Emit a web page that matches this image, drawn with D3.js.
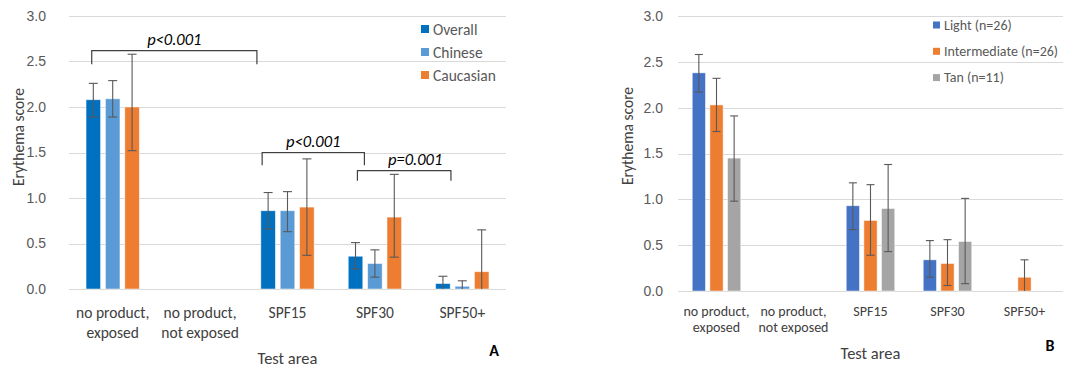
<!DOCTYPE html>
<html>
<head>
<meta charset="utf-8">
<script src="https://cdn.jsdelivr.net/npm/d3@7"></script>
<style>
  html, body { margin: 0; padding: 0; background: #fff; }
  svg { display: block; font-family: Carlito, Calibri, Lato, sans-serif; }
</style>
</head>
<body>
<svg id="chart" width="1065" height="370"></svg>
<script>
// Categories (shared by both panels)
const categories = ['no product, exposed', 'no product, not exposed', 'SPF15', 'SPF30', 'SPF50+'];
const categoryLines = [['no product,', 'exposed'], ['no product,', 'not exposed'], ['SPF15'], ['SPF30'], ['SPF50+']];
const yTicks = [0, 0.5, 1.0, 1.5, 2.0, 2.5, 3.0];

// Panel A: by ethnicity
const seriesA = ['Overall', 'Chinese', 'Caucasian'];
const overall     = [2.08, null, 0.86, 0.36, 0.06];
const overallLo   = [1.89, null, 0.66, 0.22, -0.02];
const overallHi   = [2.26, null, 1.06, 0.51, 0.14];
const chinese     = [2.09, null, 0.86, 0.28, 0.03];
const chineseLo   = [1.89, null, 0.63, 0.13, -0.03];
const chineseHi   = [2.29, null, 1.07, 0.43, 0.09];
const caucasian   = [2.00, null, 0.90, 0.79, 0.19];
const caucasianLo = [1.52, null, 0.37, 0.35, -0.27];
const caucasianHi = [2.58, null, 1.43, 1.26, 0.65];

// Panel A significance brackets: [category, fraction of band] ends, y levels in score units
const bracketsA = [
    { from: [0, 0.26], to: [2, 0.15], top: 2.62, foot: 2.47, label: 'p<0.001', dx: 0 },
    { from: [2, 0.21], to: [3, 0.38], top: 1.50, foot: 1.36, label: 'p<0.001', dx: 0 },
    { from: [3, 0.30], to: [4, 0.37], top: 1.30, foot: 1.19, label: 'p=0.001', dx: 11 }
];

// Panel B: by skin type
const seriesB = ['Light (n=26)', 'Intermediate (n=26)', 'Tan (n=11)'];
const light   = [2.38, null, 0.93, 0.34, null];
const lightLo = [2.17, null, 0.67, 0.15, null];
const lightHi = [2.58, null, 1.18, 0.55, null];
const inter   = [2.03, null, 0.77, 0.30, 0.15];
const interLo = [1.74, null, 0.39, 0.06, -0.04];
const interHi = [2.32, null, 1.16, 0.56, 0.34];
const tan     = [1.45, null, 0.90, 0.54, null];
const tanLo   = [0.98, null, 0.43, 0.08, null];
const tanHi   = [1.91, null, 1.38, 1.01, null];

const svg = d3.select('#chart');

function drawPanel(cfg) {
    const g = svg.append('g');

    const x = d3.scaleBand()
        .domain(categories)
        .range([cfg.left, cfg.right])
        .padding(0);

    const bw = x.bandwidth();
    const x1 = d3.scaleBand()
        .domain(cfg.series.map(s => s.name))
        .range([bw * (1 - cfg.groupFrac) / 2, bw * (1 + cfg.groupFrac) / 2])
        .paddingInner(0.25);

    const y = d3.scaleLinear()
        .domain([0, 3])
        .range([cfg.bottom, cfg.top]);

    // Gridlines
    g.append('g')
        .selectAll('line')
        .data(yTicks)
        .join('line')
        .attr('x1', cfg.left)
        .attr('x2', cfg.right)
        .attr('y1', d => Math.round(y(d)) + 0.5)
        .attr('y2', d => Math.round(y(d)) + 0.5)
        .attr('stroke', '#d9d9d9')
        .attr('stroke-width', 1);

    // Y axis labels
    const yAxis = g.append('g')
        .attr('transform', `translate(${cfg.left},0)`)
        .call(d3.axisLeft(y).tickValues(yTicks).tickFormat(d3.format('.1f')).tickSize(0).tickPadding(cfg.tickPad));
    yAxis.select('.domain').remove();
    yAxis.selectAll('text')
        .attr('fill', '#595959')
        .style('font-size', cfg.tickSize + 'px');

    // Y axis title
    g.append('text')
        .attr('transform', `translate(${cfg.yTitleX},${cfg.yTitleY}) rotate(-90)`)
        .attr('text-anchor', 'middle')
        .attr('dominant-baseline', 'central')
        .attr('fill', '#404040')
        .style('font-size', '15.5px')
        .text('Erythema score');

    // Bars + error bars
    cfg.series.forEach(s => {
        const sg = g.append('g');
        const rows = categories.map((c, i) => ({ c, v: s.values[i], lo: s.lo[i], hi: s.hi[i] }))
            .filter(d => d.v != null);

        sg.selectAll('rect')
            .data(rows)
            .join('rect')
            .attr('x', d => x(d.c) + x1(s.name))
            .attr('width', x1.bandwidth())
            .attr('y', d => y(d.v))
            .attr('height', d => y(0) - y(d.v))
            .attr('fill', s.color)
            .attr('stroke', '#fff')
            .attr('stroke-opacity', 0.6)
            .attr('stroke-width', 0.8);

        const cx = d => x(d.c) + x1(s.name) + x1.bandwidth() / 2;
        const cap = cfg.capWidth / 2;

        sg.selectAll('line.err')
            .data(rows)
            .join('line')
            .attr('class', 'err')
            .attr('x1', cx)
            .attr('x2', cx)
            .attr('y1', d => y(d.hi))
            .attr('y2', d => y(Math.max(d.lo, 0)))
            .attr('stroke', '#595959')
            .attr('stroke-width', 1.1);

        sg.selectAll('line.cap-hi')
            .data(rows)
            .join('line')
            .attr('class', 'cap-hi')
            .attr('x1', d => cx(d) - cap)
            .attr('x2', d => cx(d) + cap)
            .attr('y1', d => y(d.hi))
            .attr('y2', d => y(d.hi))
            .attr('stroke', '#595959')
            .attr('stroke-width', 1.1);

        sg.selectAll('line.cap-lo')
            .data(rows.filter(d => d.lo > 0))
            .join('line')
            .attr('class', 'cap-lo')
            .attr('x1', d => cx(d) - cap)
            .attr('x2', d => cx(d) + cap)
            .attr('y1', d => y(d.lo))
            .attr('y2', d => y(d.lo))
            .attr('stroke', '#595959')
            .attr('stroke-width', 1.1);
    });

    // Category labels (wrapped)
    const labels = g.append('g')
        .selectAll('text')
        .data(categories)
        .join('text')
        .attr('x', d => x(d) + bw / 2)
        .attr('y', cfg.catY)
        .attr('text-anchor', 'middle')
        .attr('dominant-baseline', 'central')
        .attr('fill', '#404040')
        .style('font-size', cfg.catSize + 'px');
    labels.each(function (d, i) {
        d3.select(this).selectAll('tspan')
            .data(categoryLines[i])
            .join('tspan')
            .attr('x', x(d) + bw / 2)
            .attr('dy', (t, j) => j === 0 ? 0 : cfg.catLineH)
            .text(t => t);
    });

    // X axis title
    g.append('text')
        .attr('x', (cfg.left + cfg.right) / 2)
        .attr('y', cfg.xTitleY)
        .attr('text-anchor', 'middle')
        .attr('dominant-baseline', 'central')
        .attr('fill', '#404040')
        .style('font-size', '16.5px')
        .text('Test area');

    // Panel letter
    g.append('text')
        .attr('x', cfg.letterX)
        .attr('y', cfg.xTitleY - 8)
        .attr('text-anchor', 'middle')
        .attr('dominant-baseline', 'central')
        .attr('fill', '#000')
        .style('font-size', '16px')
        .style('font-weight', 'bold')
        .text(cfg.letter);

    // Legend
    const leg = g.append('g')
        .selectAll('g')
        .data(cfg.series)
        .join('g')
        .attr('transform', (d, i) => `translate(${cfg.legX},${cfg.legY + i * cfg.legStep})`);
    leg.append('rect')
        .attr('x', 0)
        .attr('y', -cfg.legBox / 2)
        .attr('width', cfg.legBox)
        .attr('height', cfg.legBox)
        .attr('fill', d => d.color);
    leg.append('text')
        .attr('x', cfg.legBox + 4)
        .attr('dominant-baseline', 'central')
        .attr('fill', '#595959')
        .style('font-size', cfg.legSize + 'px')
        .text(d => d.name);

    // Significance brackets
    (cfg.brackets || []).forEach(b => {
        const xa = x(categories[b.from[0]]) + b.from[1] * bw;
        const xb = x(categories[b.to[0]]) + b.to[1] * bw;
        const yt = y(b.top), yf = y(b.foot);
        g.append('path')
            .attr('d', d3.line()([[xa, yf], [xa, yt], [xb, yt], [xb, yf]]))
            .attr('fill', 'none')
            .attr('stroke', '#404040')
            .attr('stroke-width', 1.2);
        g.append('text')
            .attr('x', (xa + xb) / 2 + b.dx)
            .attr('y', yt - 6)
            .attr('text-anchor', 'middle')
            .attr('fill', '#000')
            .style('font-size', '16.5px')
            .style('font-style', 'italic')
            .text(b.label);
    });
}

drawPanel({
    left: 69, right: 506, top: 16, bottom: 289,
    groupFrac: 0.61, capWidth: 9, tickPad: 23, tickSize: 14,
    yTitleX: 18, yTitleY: 137,
    catY: 312, catSize: 15.5, catLineH: 20, xTitleY: 358,
    letter: 'A', letterX: 494,
    legX: 421, legY: 29, legStep: 23, legBox: 8, legSize: 15.5,
    series: [
        { name: seriesA[0], color: '#0070c0', values: overall, lo: overallLo, hi: overallHi },
        { name: seriesA[1], color: '#5b9bd5', values: chinese, lo: chineseLo, hi: chineseHi },
        { name: seriesA[2], color: '#ed7d31', values: caucasian, lo: caucasianLo, hi: caucasianHi }
    ],
    brackets: bracketsA
});

drawPanel({
    left: 678, right: 1063, top: 16, bottom: 291,
    groupFrac: 0.63, capWidth: 8, tickPad: 15, tickSize: 14,
    yTitleX: 627, yTitleY: 136,
    catY: 311, catSize: 14, catLineH: 16, xTitleY: 353,
    letter: 'B', letterX: 1050,
    legX: 933, legY: 25, legStep: 26.3, legBox: 7, legSize: 14,
    series: [
        { name: seriesB[0], color: '#4472c4', values: light, lo: lightLo, hi: lightHi },
        { name: seriesB[1], color: '#ed7d31', values: inter, lo: interLo, hi: interHi },
        { name: seriesB[2], color: '#a5a5a5', values: tan, lo: tanLo, hi: tanHi }
    ]
});
</script>
</body>
</html>
